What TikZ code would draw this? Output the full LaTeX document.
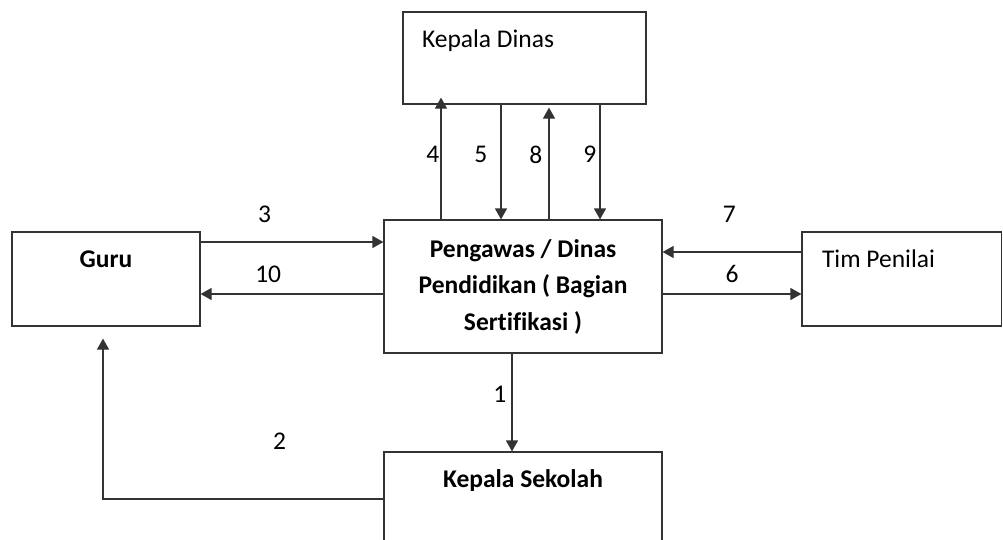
\documentclass[tikz,border=0pt]{standalone}
\usepackage{fontspec}
\setmainfont{Carlito}[Ligatures=NoCommon]
\usetikzlibrary{arrows.meta}
\tikzset{>={Triangle[length=11pt,width=12pt]}}
\tikzset{
  box/.style={draw=black!80, rectangle, inner sep=0pt},
  num/.style={inner sep=1pt},
  intext/.style={inner sep=0pt, anchor=center},
}

\begin{document}
\begin{tikzpicture}[x=1pt, y=-1pt, line width=1.2pt, font=\fontsize{25.5}{36.5}\selectfont]
  \useasboundingbox (0,0) rectangle (1003,539);
  % boxes
  \node[box, minimum width=243pt, minimum height=92pt,
        label={[intext, anchor=west, xshift=19pt, yshift=-29pt]north west:Kepala Dinas}] (kd) at (524.5,58) {};
  \node[box, minimum width=188pt, minimum height=94pt,
        label={[intext, yshift=-28pt]north:\textbf{Guru}}] (guru) at (106,279) {};
  \node[box, minimum width=278pt, minimum height=133pt, align=center,
        font=\bfseries\fontsize{25.5}{36.5}\selectfont] (pengawas) at (523,286.5)
        {Pengawas / Dinas\\Pendidikan ( Bagian\\Sertifikasi )};
  \node[box, minimum width=199.5pt, minimum height=94pt,
        label={[intext, anchor=west, xshift=20pt, yshift=-27pt]north west:Tim Penilai}] (tim) at (901.75,279) {};
  \node[box, minimum width=278pt, minimum height=110pt,
        label={[intext, yshift=-29pt]north:\textbf{Kepala Sekolah}}] (ks) at (523,507) {};
  % where the connectors run
  \coordinate (x4) at (441,0);
  \coordinate (x5) at (501,0);
  \coordinate (x8) at (549,0);
  \coordinate (x9) at (600,0);
  \coordinate (x1) at (512,0);
  \coordinate (y3) at (0,242);
  \coordinate (y7) at (0,252);
  \coordinate (ylow) at (0,294);
  \coordinate (c2) at (103,499);
  % up and down to Kepala Dinas
  \draw[->, black!80, shorten >=-7pt] (pengawas.north -| x4) -- (kd.south -| x4) node[num, black, pos=0.565, left=0pt] {4};
  \draw[->, black!80] (kd.south -| x5) -- (pengawas.north -| x5) node[num, black, pos=0.435, left=12pt] {5};
  \draw[->, black!80, shorten >=3pt] (pengawas.north -| x8) -- (kd.south -| x8) node[num, black, pos=0.565, left=5pt] {8};
  \draw[->, black!80] (kd.south -| x9) -- (pengawas.north -| x9) node[num, black, pos=0.435, left=2pt] {9};
  % Guru
  \draw[->, black!80] (guru.east |- y3) -- (pengawas.west |- y3) node[num, black, pos=0.35, above=18pt] {3};
  \draw[->, black!80] (pengawas.west |- ylow) -- (guru.east |- ylow) node[num, black, pos=0.63, above=10pt] {10};
  % Tim Penilai
  \draw[->, black!80] (tim.west |- y7) -- (pengawas.east |- y7) node[num, black, pos=0.52, above=28pt] {7};
  \draw[->, black!80] (pengawas.east |- ylow) -- (tim.west |- ylow) node[num, black, pos=0.5, above=10pt] {6};
  % Kepala Sekolah
  \draw[->, black!80] (pengawas.south -| x1) -- (ks.north -| x1) node[num, black, pos=0.42, left=4pt] {1};
  \draw[->, black!80] (ks.west |- c2) -- (c2) node[num, black, pos=0.37, above=48pt] {2}
    -- ([yshift=-12pt]guru.south -| c2);
\end{tikzpicture}
\end{document}
